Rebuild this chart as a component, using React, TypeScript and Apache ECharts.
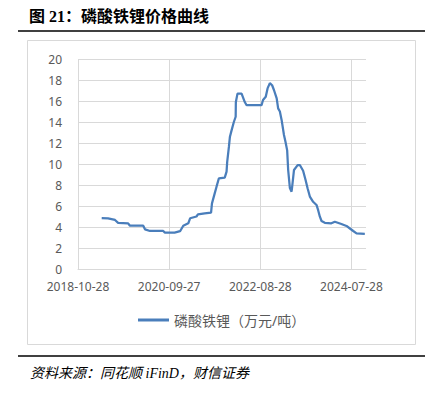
import React, { useEffect, useRef } from "react";
import * as echarts from "echarts";

// Week index counted from 2018-10-28 (weekly data)
const weeks = [
  26, 33, 40.6, 44, 55, 57, 71.6, 73.5, 79, 93.5, 95.4, 106, 112, 115.5, 121, 123, 130,
  131.6, 139, 146, 147, 150, 152, 154.6, 161, 163, 163.7, 165.6, 166.7, 168.5, 171, 173,
  173.2, 175, 179.5, 183, 185, 201.4, 203, 206, 208, 210.5, 213, 215, 218, 219.6, 221.5,
  223.4, 226, 227.7, 229.5, 230.6, 232.5, 234.3, 235, 237, 241, 243.4, 247, 249.7, 251.9,
  254.4, 258, 261.7, 263.5, 265.4, 267.2, 270.8, 278, 281.8, 289, 294.6, 298, 302, 305.6,
  314.7,
];
const prices = [
  4.85, 4.83, 4.67, 4.4, 4.35, 4.12, 4.12, 3.78, 3.62, 3.62, 3.46, 3.46, 3.6, 4.12, 4.35,
  4.83, 5.0, 5.2, 5.3, 5.36, 6.25, 7.2, 7.84, 8.64, 8.7, 9.27, 10.2, 11.65, 12.6, 13.2,
  14.0, 14.5, 15.9, 16.7, 16.7, 15.9, 15.6, 15.6, 16.1, 16.4, 17.2, 17.7, 17.5, 17.05,
  16.25, 15.3, 15.0, 14.2, 12.76, 12.1, 11.3, 9.43, 7.7, 7.36, 7.84, 9.43, 9.9, 9.9, 9.36,
  8.48, 7.69, 6.9, 6.4, 6.1, 5.6, 4.98, 4.57, 4.4, 4.35, 4.5, 4.29, 4.1, 3.88, 3.62, 3.4,
  3.35,
];
const xTickLabels = ["2018-10-28", "2020-09-27", "2022-08-28", "2024-07-28"];
const seriesName = "磷酸铁锂（万元/吨）";
const titleText = "图 21：磷酸铁锂价格曲线";
const sourceText = "资料来源：同花顺 iFinD，财信证券";

export default function App() {
  const ref = useRef<HTMLDivElement>(null);
  useEffect(() => {
    if (!ref.current) return;
    const chart = echarts.init(ref.current, null, { renderer: "svg" });
    const data = weeks.map((w, i) => [w, prices[i]]);
    const gray = "#d9d9d9";
    const labelColor = "#595959";
    const font = "'Noto Sans', 'Noto Sans CJK SC', sans-serif";
    chart.setOption({
      animation: false,
      backgroundColor: "#ffffff",
      grid: { left: 78, right: 67, top: 59, bottom: 124, containLabel: false },
      xAxis: {
        type: "value",
        min: 0,
        max: 316,
        interval: 100,
        axisLine: { show: true, lineStyle: { color: gray, width: 1 } },
        axisTick: { show: false },
        axisLabel: {
          margin: 11,
          color: labelColor,
          fontSize: 12,
          fontFamily: font,
          showMaxLabel: false,
          formatter: (v: number) => (v % 100 === 0 ? xTickLabels[v / 100] ?? "" : ""),
        },
        splitLine: { show: true, showMaxLine: false, lineStyle: { color: gray, width: 1 } },
      },
      yAxis: {
        type: "value",
        min: 0,
        max: 20,
        interval: 2,
        axisLine: { show: false },
        axisTick: { show: false },
        axisLabel: { margin: 16, color: labelColor, fontSize: 12, fontFamily: font },
        splitLine: { show: true, lineStyle: { color: gray, width: 1 } },
      },
      legend: {
        show: true,
        left: 138,
        top: 313,
        padding: 0,
        icon: "rect",
        itemWidth: 31,
        itemHeight: 3,
        itemGap: 4,
        textStyle: { color: labelColor, fontSize: 14, fontFamily: font },
        data: [seriesName],
      },
      series: [
        {
          name: seriesName,
          type: "line",
          data,
          showSymbol: false,
          symbol: "none",
          lineStyle: { color: "#4a7ebb", width: 2.25 },
          itemStyle: { color: "#4a7ebb" },
        },
      ],
      graphic: [
        {
          type: "text",
          left: 29,
          top: 8,
          style: {
            text: titleText,
            fontSize: 16,
            fontWeight: "bold",
            fill: "#000",
            fontFamily: "'Liberation Serif', 'Noto Sans CJK SC', serif",
          },
        },
        {
          type: "line",
          shape: { x1: 18, y1: 31, x2: 425, y2: 31 },
          style: { stroke: "#000", lineWidth: 1.5 },
        },
        {
          type: "rect",
          shape: { x: 27.5, y: 40.5, width: 388, height: 304 },
          style: { fill: "none", stroke: gray, lineWidth: 1 },
          silent: true,
        },
        {
          type: "line",
          shape: { x1: 18, y1: 356, x2: 425, y2: 356 },
          style: { stroke: "#000", lineWidth: 1.5 },
        },
        {
          type: "text",
          left: 30,
          top: 366,
          style: {
            text: sourceText,
            fontSize: 14,
            fontStyle: "italic",
            fill: "#000",
            fontFamily: "'Liberation Serif', 'Noto Sans CJK SC', serif",
          },
        },
      ],
    });
    return () => chart.dispose();
  }, []);
  return (
    <div
      ref={ref}
      style={{ position: "fixed", left: 0, top: 0, width: 433, height: 393 }}
    />
  );
}
